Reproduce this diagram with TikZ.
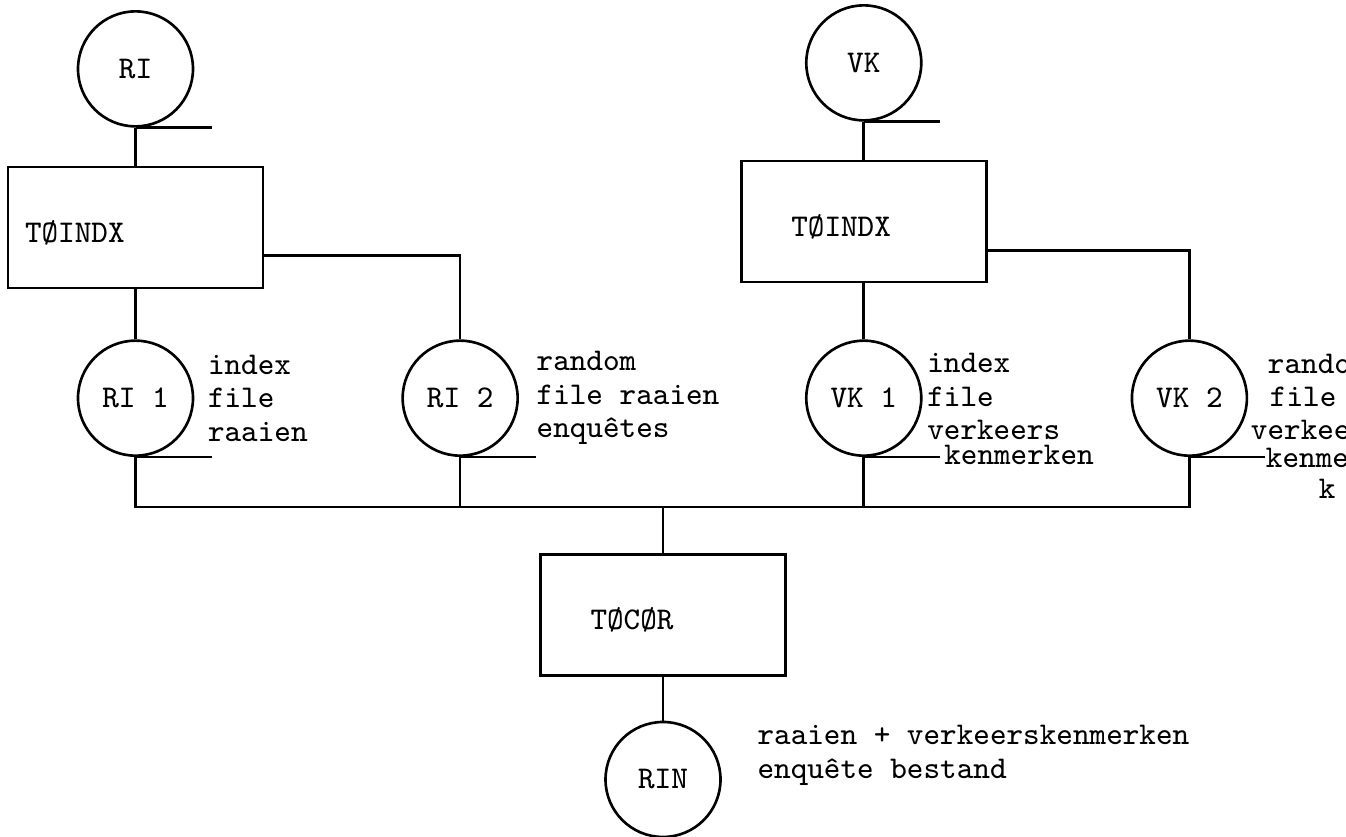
\documentclass[tikz,border=0pt]{standalone}
\usepackage{tikz}
\usetikzlibrary{positioning,calc}

\begin{document}
\begin{tikzpicture}[
    node distance=5mm,
    font=\ttfamily\fontsize{9}{9.5}\selectfont,
    store/.style={draw, circle, line width=0.75pt, minimum size=11.5mm, inner sep=0pt},
    prog/.style={draw, line width=0.75pt, minimum height=12.1mm, text width=14.5mm, inner xsep=5mm, align=left, text height=3mm, text depth=0mm},
    note/.style={align=left, inner sep=0pt},
    link/.style={line width=0.75pt}
]
\useasboundingbox (0,0) rectangle (13.46,-8.36);

\node[prog, text width=22.1mm, inner xsep=1.7mm] (tind1) at (1.355,-2.275) {TØINDX};
\node[store, above=3.8mm of tind1] (ri) {RI};
\node[store, below=5mm of tind1] (ri1) {RI 1};
\node[store, right=20.7mm of ri1] (ri2) {RI 2};
\node[store, right=28.6mm of ri2] (vk1) {VK 1};
\node[store, right=20.8mm of vk1] (vk2) {VK 2};
\node[prog, above=5.6mm of vk1] (tind2) {TØINDX};
\node[store, above=3.8mm of tind2] (vk) {VK};
\coordinate (bus) at (6.63,-5.07);
\node[prog, below=4.6mm of bus] (tcor) {TØCØR};
\node[store, below=4.4mm of tcor] (rin) {RIN};

\node[note, right=1.3mm of ri1] (ri1txt) {index\\file\\raaien};
\node[note, right=1.7mm of ri2] (ri2txt) {random\\file raaien\\enquêtes};
\node[note, right=0.4mm of vk1, yshift=-1.1mm] (vk1txt) {index\\file\\verkeers\\[-0.8mm]\hspace*{1.7mm}kenmerken};
\node[note, right=0.2mm of vk2, yshift=-2.8mm] (vk2txt) {\hspace*{1.7mm}random\\\hspace*{1.9mm}file\\verkeers\\[-0.6mm]\hspace*{1.5mm}kenmerken\\[-0.2mm]\hspace*{6.8mm}k};
\node[note, right=3.5mm of rin, yshift=2.4mm] (rintxt) {raaien + verkeerskenmerken\\enquête bestand};

\draw[link] (ri) -- (tind1);
\draw[link] (tind1) -- (ri1);
\draw[link] ([yshift=3.4mm]tind1.south east) -| (ri2);
\draw[link] (vk) -- (tind2);
\draw[link] (tind2) -- (vk1);
\draw[link] ([yshift=3.3mm]tind2.south east) -| (vk2);
\draw[link] (ri1) |- (bus) -| (vk2);
\draw[link] (ri2) -- (ri2 |- bus);
\draw[link] (vk1) -- (vk1 |- bus);
\draw[link] (bus) -- (tcor);
\draw[link] (tcor) -- (rin);

% short lines under the files
\foreach \n in {ri,ri1,ri2,vk,vk1,vk2,rin}
  \draw[link] (\n.south) -- ++(7.6mm,0);
\end{tikzpicture}
\end{document}
